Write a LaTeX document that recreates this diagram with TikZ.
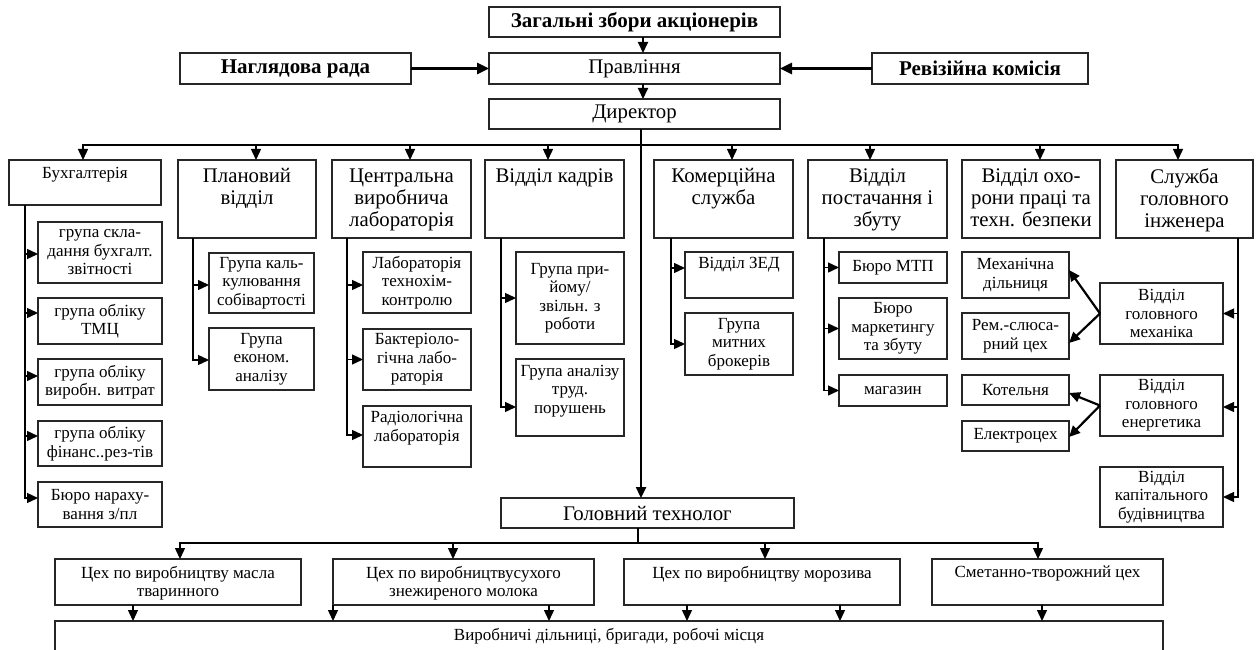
\documentclass[tikz,border=0pt]{standalone}
\usepackage{fontspec}
\setmainfont{Liberation Serif}
\usetikzlibrary{arrows.meta,calc}
\newcommand\fHdr{\fontsize{20.8}{22}\selectfont}
\newcommand\fTopB{\fontsize{21}{22}\selectfont\bfseries}
\newcommand\fSub{\fontsize{17}{18.5}\selectfont}
\newcommand\fShop{\fontsize{17}{18.5}\selectfont}
\tikzset{
  box/.style={draw=black!85, line width=1.3pt, inner sep=0pt, outer sep=0pt, align=center},
  hdr/.style={font=\fHdr},
  topb/.style={font=\fTopB},
  sub/.style={font=\fSub},
  shop/.style={font=\fShop},
  conn/.style={draw=black, line width=1.4pt},
  arr/.style={conn, -{Triangle[length=11pt,width=10pt]}},
  stub/.style={draw=black, line width=1.8pt, -{Triangle[length=11pt,width=10pt]}},
  thickarr/.style={draw=black, line width=2.7pt, -{Triangle[length=12pt,width=11pt]}},
  mainline/.style={draw=black, line width=2.4pt, -{Triangle[length=11pt,width=10pt]}},
  diag/.style={draw=black, line width=2.2pt, -{Triangle[length=11pt,width=10pt]}},
}
% name, x1, y1, x2, y2, text, style : text centred
\newcommand\Bx[7]{\node[box,#7,minimum width={(#4-#2)*1pt},minimum height={(#5-#3)*1pt}] (#1) at ({(#2+#4)/2},{(#3+#5)/2}) {#6};}
% name, x1, y1, x2, y2, text, style, offset : text at top
\newcommand\Tb[8]{\node[box,minimum width={(#4-#2)*1pt},minimum height={(#5-#3)*1pt}] (#1) at ({(#2+#4)/2},{(#3+#5)/2}) {};
  \node[anchor=north,align=center,inner sep=0pt,#7] (#1t) at ([yshift=-#8pt]#1.north) {#6};}
\begin{document}
\begin{tikzpicture}[x=1pt,y=-1pt]
\useasboundingbox (0,0) rectangle (1258,650);
% ---- top level
\Bx{zag}{489}{7}{780}{37}{Загальні збори акціонерів}{topb}
\Bx{nag}{180}{53}{411}{84}{Наглядова рада}{topb}
\Bx{prav}{489}{53}{780}{84}{Правління}{hdr}
\Bx{rev}{872}{53}{1088}{84}{Ревізійна комісія}{topb}
\Bx{dir}{489}{99}{780}{129}{Директор}{hdr}
% ---- departments
\Tb{buh}{9}{160}{161}{205}{Бухгалтерія}{sub}{7}
\Tb{plan}{178}{160}{316}{238}{Плановий\\відділ}{hdr}{8.5}
\Tb{cvl}{332}{160}{471}{238}{Центральна\\виробнича\\лабораторія}{hdr}{8.5}
\Tb{kad}{485}{160}{624}{238}{Відділ кадрів}{hdr}{8.5}
\Tb{kom}{654}{160}{793}{238}{Комерційна\\служба}{hdr}{8.5}
\Tb{pos}{808}{160}{947}{238}{Відділ\\постачання і\\збуту}{hdr}{8.5}
\Tb{ohp}{962}{160}{1100}{238}{Відділ охо-\\рони праці та\\техн. безпеки}{hdr}{8.5}
\Tb{sgi}{1116}{160}{1253}{238}{Служба\\головного\\інженера}{hdr}{8.5}
% ---- sub units
\Bx{b1}{38}{222}{162}{283}{група скла-\\дання бухгалт.\\звітності}{sub}
\Bx{b2}{38}{298}{162}{344}{група обліку\\ТМЦ}{sub}
\Bx{b3}{38}{359}{162}{405}{група обліку\\виробн. витрат}{sub}
\Bx{b4}{38}{421}{162}{466}{група обліку\\фінанс..рез-тів}{sub}
\Bx{b5}{38}{482}{162}{527}{Бюро нараху-\\вання з/пл}{sub}
\Bx{p1}{209}{253}{314}{313}{Група каль-\\кулювання\\собівартості}{sub}
\Bx{p2}{209}{328}{314}{390}{Група\\економ.\\аналізу}{sub}
\Bx{c1}{363}{252}{471}{313}{Лабораторія\\технохім-\\контролю}{sub}
\Bx{c2}{363}{329}{471}{390}{Бактеріоло-\\гічна лабо-\\раторія}{sub}
\Tb{c3}{363}{406}{471}{467}{Радіологічна\\лабораторія}{sub}{5.5}
\Bx{k1}{516}{252}{624}{344}{Група при-\\йому/\\звільн. з\\роботи}{sub}
\Tb{k2}{516}{359}{624}{436}{Група аналізу\\труд.\\порушень}{sub}{6}
\Tb{m1}{685}{252}{793}{298}{Відділ ЗЕД}{sub}{5}
\Bx{m2}{685}{313}{793}{375}{Група\\митних\\брокерів}{sub}
\Bx{s1}{839}{252}{947}{283}{Бюро МТП}{sub}
\Bx{s2}{839}{298}{947}{359}{Бюро\\маркетингу\\та збуту}{sub}
\Bx{s3}{839}{375}{947}{406}{магазин}{sub}
\Bx{e1}{1100}{283}{1223}{344}{Відділ\\головного\\механіка}{sub}
\Bx{e2}{1100}{375}{1223}{436}{Відділ\\головного\\енергетика}{sub}
\Bx{e3}{1100}{467}{1223}{527}{Відділ\\капітального\\будівництва}{sub}
\Bx{w1}{962}{252}{1069}{298}{Механічна\\дільниця}{sub}
\Bx{w2}{962}{313}{1069}{359}{Рем.-слюса-\\рний цех}{sub}
\Bx{w3}{962}{375}{1069}{405}{Котельня}{sub}
\Bx{w4}{962}{421}{1069}{451}{Електроцех}{sub}
% ---- production
\Bx{tech}{501}{498}{794}{528}{Головний технолог}{hdr}
\Tb{sh1}{55}{559}{301}{605}{Цех по виробництву масла\\тваринного}{shop}{7}
\Tb{sh2}{333}{559}{594}{605}{Цех по виробництвусухого\\знежиреного молока}{shop}{7}
\Tb{sh3}{624}{559}{900}{605}{Цех по виробництву морозива}{shop}{7}
\Tb{sh4}{932}{559}{1163}{605}{Сметанно-творожний цех}{shop}{7}
\Tb{bot}{55}{621}{1163}{668}{Виробничі дільниці, бригади, робочі місця}{shop}{7.5}
% ---- connectors: top
\draw[thickarr] (nag) -- (prav);
\draw[thickarr] (rev) -- (prav);
\draw[stub] ([xshift=8.5pt]zag.south) -- ([xshift=8.5pt]prav.north);
\draw[stub] ([xshift=8.5pt]prav.south) -- ([xshift=8.5pt]dir.north);
\coordinate (bus) at (641,145);
\draw[mainline] (dir.south -| bus) -- (tech.north -| bus);
\draw[arr] (bus) -| ([xshift=-2pt]buh.north);
\draw[arr] (bus) -| ([xshift=9pt]plan.north);
\draw[arr] (bus) -| ([xshift=8.5pt]cvl.north);
\draw[arr] (bus) -| ([xshift=-6.5pt]kad.north);
\draw[arr] (bus) -| ([xshift=8.5pt]kom.north);
\draw[arr] (bus) -| ([xshift=-7.5pt]pos.north);
\draw[arr] (bus) -| ([xshift=9pt]ohp.north);
\draw[arr] (bus) -| ([xshift=-6.5pt]sgi.north);
% ---- sub hooks
\coordinate (bk) at (25,205);
\draw[arr] (bk) |- ([yshift=-1.5pt]b1.west);
\draw[arr] (bk) |- ([yshift=8pt]b2.west);
\draw[arr] (bk) |- ([yshift=6pt]b3.west);
\draw[arr] (bk) |- ([yshift=7.5pt]b4.west);
\draw[arr] (bk) |- ([yshift=6.5pt]b5.west);
\coordinate (pk) at (193,238);
\draw[arr] (pk) |- ([yshift=-2pt]p1.west);
\draw[arr] (pk) |- ([yshift=-1pt]p2.west);
\coordinate (ck) at (347,238);
\draw[arr] (ck) |- ([yshift=-2.5pt]c1.west);
\draw[arr] (ck) |- (c2.west);
\draw[arr] (ck) |- ([yshift=1.5pt]c3.west);
\coordinate (kk) at (501,238);
\draw[arr] (kk) |- (k1.west);
\draw[arr] (kk) |- ([yshift=-9.5pt]k2.west);
\coordinate (mk) at (671,238);
\draw[arr] (mk) |- ([yshift=7pt]m1.west);
\draw[arr] (mk) |- (m2.west);
\coordinate (sk) at (824,238);
\draw[arr] (sk) |- (s1.west);
\draw[arr] (sk) |- (s2.west);
\draw[arr] (sk) |- (s3.west);
\coordinate (ek) at (1238,238);
\draw[arr] (ek) |- (e1.east);
\draw[arr] (ek) |- ([yshift=-1.5pt]e2.east);
\draw[arr] (ek) |- (e3.east);
\draw[diag] (e1.west) -- ([yshift=5pt]w1.east);
\draw[diag] (e1.west) -- ([yshift=-7pt]w2.east);
\draw[diag] (e2.west) -- ([yshift=-3pt]w3.east);
\draw[diag] (e2.west) -- ([yshift=-1pt]w4.east);
% ---- bottom
\coordinate (bus2) at (638,543);
\draw[conn] (tech.south -| bus2) -- (bus2);
\draw[arr] (bus2) -| ([xshift=2pt]sh1.north);
\draw[arr] (bus2) -| ([xshift=-10.5pt]sh2.north);
\draw[arr] (bus2) -| ([xshift=3pt]sh3.north);
\draw[arr] (bus2) -| ([xshift=-9.5pt]sh4.north);
\coordinate (d1) at ([xshift=-45pt]sh1.south);
\coordinate (d2) at (sh2.south west);
\coordinate (d3) at ([xshift=85.5pt]sh2.south);
\coordinate (d4) at ([xshift=-75pt]sh3.south);
\coordinate (d5) at ([xshift=78pt]sh3.south);
\coordinate (d6) at ([xshift=-5.5pt]sh4.south);
\foreach \d in {d1,d2,d3,d4,d5,d6} {\draw[arr] (\d) -- (\d |- bot.north);}
\end{tikzpicture}
\end{document}
